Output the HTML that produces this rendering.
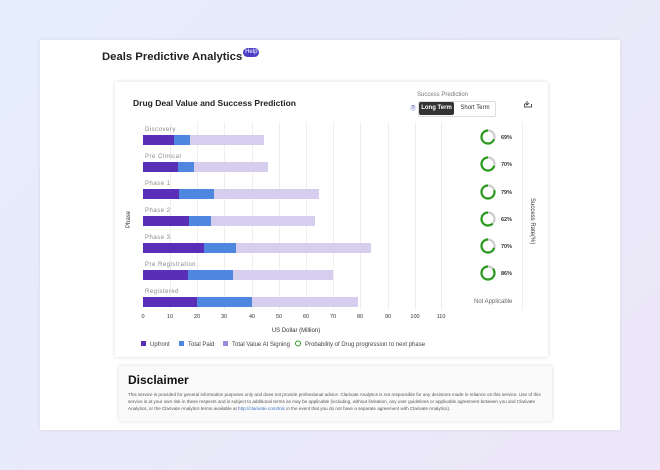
<!DOCTYPE html>
<html><head><meta charset="utf-8"><style>
body{margin:0;width:660px;height:470px;overflow:hidden;background:linear-gradient(135deg,#e6eefb,#ece6f8);font-family:"Liberation Sans",sans-serif;position:relative}
.page{position:absolute;left:40px;top:40px;width:580px;height:390px;background:#fff;box-shadow:0 0 4px rgba(0,0,0,.08)}
.card{position:absolute;left:115px;top:82px;width:433px;height:275px;background:#fff;box-shadow:0 0 4px rgba(0,0,0,.15);border-radius:2px}
.disc{position:absolute;left:119px;top:366px;width:433px;height:55px;background:#fafafa;box-shadow:0 0 4px rgba(0,0,0,.15);border-radius:2px}
.t{position:absolute;white-space:nowrap}
</style></head><body>
<div class="page"></div>
<div class="t" style="left:102px;top:51px;font-size:11.3px;font-weight:bold;color:#222">Deals Predictive Analytics<span style="display:inline-block;vertical-align:top;margin-top:-3px;margin-left:1px;width:16px;height:9px;border-radius:5px;background:#4b3fc8;color:#fff;font-size:6px;font-weight:normal;text-align:center;line-height:9px">Help</span></div>
<div class="card"></div>
<div class="t" style="left:133px;top:98px;font-size:8.5px;font-weight:bold;color:#222">Drug Deal Value and Success Prediction</div>
<div class="t" style="left:417px;top:92px;font-size:6px;color:#777">Success Prediction</div>
<div class="t" style="left:410px;top:105px;width:6px;height:6px;border-radius:3px;background:#dcdcf5;font-size:5px;text-align:center;color:#44a">?</div>
<div class="t" style="left:418px;top:101px;width:76px;height:14px;border:1px solid #ddd;border-radius:2px"></div>
<div class="t" style="left:419px;top:102px;width:35px;height:13px;background:#333;border-radius:2px;color:#fff;font-size:6px;font-weight:bold;line-height:13px;text-align:center">Long Term</div>
<div class="t" style="left:456px;top:102px;width:38px;height:13px;color:#333;font-size:6px;line-height:13px;text-align:center">Short Term</div>
<svg class="t" style="left:0;top:0" width="660" height="470">
<g stroke="#555" stroke-width="1" fill="none"><path d="M527 101v4M525 103l2 2 2-2M526.5 101.5h1M524.5 104v3h7v-3"/></g>
<g stroke="#eee" stroke-width="1">
<line x1="170.5" y1="122" x2="170.5" y2="310"/><line x1="197.5" y1="122" x2="197.5" y2="310"/><line x1="224.5" y1="122" x2="224.5" y2="310"/><line x1="252.5" y1="122" x2="252.5" y2="310"/><line x1="279.5" y1="122" x2="279.5" y2="310"/><line x1="306.5" y1="122" x2="306.5" y2="310"/><line x1="333.5" y1="122" x2="333.5" y2="310"/><line x1="360.5" y1="122" x2="360.5" y2="310"/><line x1="388.5" y1="122" x2="388.5" y2="310"/><line x1="415.5" y1="122" x2="415.5" y2="310"/><line x1="441.5" y1="122" x2="441.5" y2="310"/><line x1="522.5" y1="122" x2="522.5" y2="310"/>
</g>
<g font-size="6" fill="#888" letter-spacing=".5">
<text x="145" y="131">Discovery</text><text x="145" y="158">Pre Clinical</text><text x="145" y="185">Phase 1</text><text x="145" y="212">Phase 2</text><text x="145" y="239">Phase 3</text><text x="145" y="266">Pre Registration</text><text x="145" y="293">Registered</text>
</g>
<g>
<rect x="143" y="135" width="121" height="10" fill="#d7cdee"/><rect x="143" y="135" width="47" height="10" fill="#4e86e0"/><rect x="143" y="135" width="31" height="10" fill="#5a2fb8"/>
<rect x="143" y="162" width="125" height="10" fill="#d7cdee"/><rect x="143" y="162" width="51" height="10" fill="#4e86e0"/><rect x="143" y="162" width="35" height="10" fill="#5a2fb8"/>
<rect x="143" y="189" width="176" height="10" fill="#d7cdee"/><rect x="143" y="189" width="71" height="10" fill="#4e86e0"/><rect x="143" y="189" width="36" height="10" fill="#5a2fb8"/>
<rect x="143" y="216" width="172" height="10" fill="#d7cdee"/><rect x="143" y="216" width="68" height="10" fill="#4e86e0"/><rect x="143" y="216" width="46" height="10" fill="#5a2fb8"/>
<rect x="143" y="243" width="228" height="10" fill="#d7cdee"/><rect x="143" y="243" width="93" height="10" fill="#4e86e0"/><rect x="143" y="243" width="61" height="10" fill="#5a2fb8"/>
<rect x="143" y="270" width="190" height="10" fill="#d7cdee"/><rect x="143" y="270" width="90" height="10" fill="#4e86e0"/><rect x="143" y="270" width="45" height="10" fill="#5a2fb8"/>
<rect x="143" y="297" width="215" height="10" fill="#d7cdee"/><rect x="143" y="297" width="109" height="10" fill="#4e86e0"/><rect x="143" y="297" width="54" height="10" fill="#5a2fb8"/>
</g>
<g font-size="5.5" fill="#333" text-anchor="middle">
<text x="143" y="318">0</text><text x="170" y="318">10</text><text x="197" y="318">20</text><text x="224" y="318">30</text><text x="252" y="318">40</text><text x="279" y="318">50</text><text x="306" y="318">60</text><text x="333" y="318">70</text><text x="360" y="318">80</text><text x="388" y="318">90</text><text x="415" y="318">100</text><text x="441" y="318">110</text>
</g>
<text x="296" y="332" font-size="6" fill="#333" text-anchor="middle">US Dollar (Million)</text>
<text x="0" y="0" font-size="6" fill="#333" transform="translate(130,228) rotate(-90)">Phase</text>
<text x="0" y="0" font-size="6" fill="#333" transform="translate(531,198) rotate(90)">Success Rate(%)</text>
<g fill="none" stroke-width="2.2">
<circle cx="488" cy="137" r="6.5" stroke="#ccc"/><circle cx="488" cy="137" r="6.5" stroke="#2a9a1c" stroke-dasharray="28.2 40.8" transform="rotate(-90 488 137) scale(1,-1) translate(0,-274)"/>
<circle cx="488" cy="164" r="6.5" stroke="#ccc"/><circle cx="488" cy="164" r="6.5" stroke="#2a9a1c" stroke-dasharray="28.6 40.8" transform="rotate(-90 488 164) scale(1,-1) translate(0,-328)"/>
<circle cx="488" cy="192" r="6.5" stroke="#ccc"/><circle cx="488" cy="192" r="6.5" stroke="#2a9a1c" stroke-dasharray="32.3 40.8" transform="rotate(-90 488 192) scale(1,-1) translate(0,-384)"/>
<circle cx="488" cy="219" r="6.5" stroke="#ccc"/><circle cx="488" cy="219" r="6.5" stroke="#2a9a1c" stroke-dasharray="25.3 40.8" transform="rotate(-90 488 219) scale(1,-1) translate(0,-438)"/>
<circle cx="488" cy="246" r="6.5" stroke="#ccc"/><circle cx="488" cy="246" r="6.5" stroke="#2a9a1c" stroke-dasharray="28.6 40.8" transform="rotate(-90 488 246) scale(1,-1) translate(0,-492)"/>
<circle cx="488" cy="273" r="6.5" stroke="#ccc"/><circle cx="488" cy="273" r="6.5" stroke="#2a9a1c" stroke-dasharray="35.1 40.8" transform="rotate(-90 488 273) scale(1,-1) translate(0,-546)"/>
</g>
<g font-size="5.5" font-weight="bold" fill="#333">
<text x="501" y="139">69%</text><text x="501" y="166">70%</text><text x="501" y="194">79%</text><text x="501" y="221">62%</text><text x="501" y="248">70%</text><text x="501" y="275">86%</text>
</g>
<text x="474" y="303" font-size="6" fill="#666">Not Applicable</text>
<g font-size="6" fill="#444">
<rect x="141" y="341" width="5" height="5" fill="#5a2fb8"/><text x="150" y="346">Upfront</text>
<rect x="179" y="341" width="5" height="5" fill="#4e86e0"/><text x="188" y="346">Total Paid</text>
<rect x="223" y="341" width="5" height="5" fill="#9a8ae0"/><text x="232" y="346">Total Value At Signing</text>
<circle cx="298" cy="343.5" r="2.5" fill="none" stroke="#2a9a1c" stroke-width="1"/><text x="305" y="346">Probability of Drug progression to next phase</text>
</g>
</svg>
<div class="disc"></div>
<div class="t" style="left:128px;top:373px;font-size:12px;font-weight:bold;color:#111">Disclaimer</div>
<div class="t" style="left:128px;top:391px;width:418px;white-space:normal;font-size:4.6px;line-height:7px;color:#555">This service is provided for general information purposes only and does not provide professional advice. Clarivate Analytics is not responsible for any decisions made in reliance on this service. Use of this service is at your own risk in these respects and is subject to additional terms as may be applicable (including, without limitation, any user guidelines or applicable agreement between you and Clarivate Analytics, or the Clarivate Analytics terms available at <span style="color:#3a6fc4">http://clarivate.com/tolc</span> in the event that you do not have a separate agreement with Clarivate Analytics).</div>
</body></html>
